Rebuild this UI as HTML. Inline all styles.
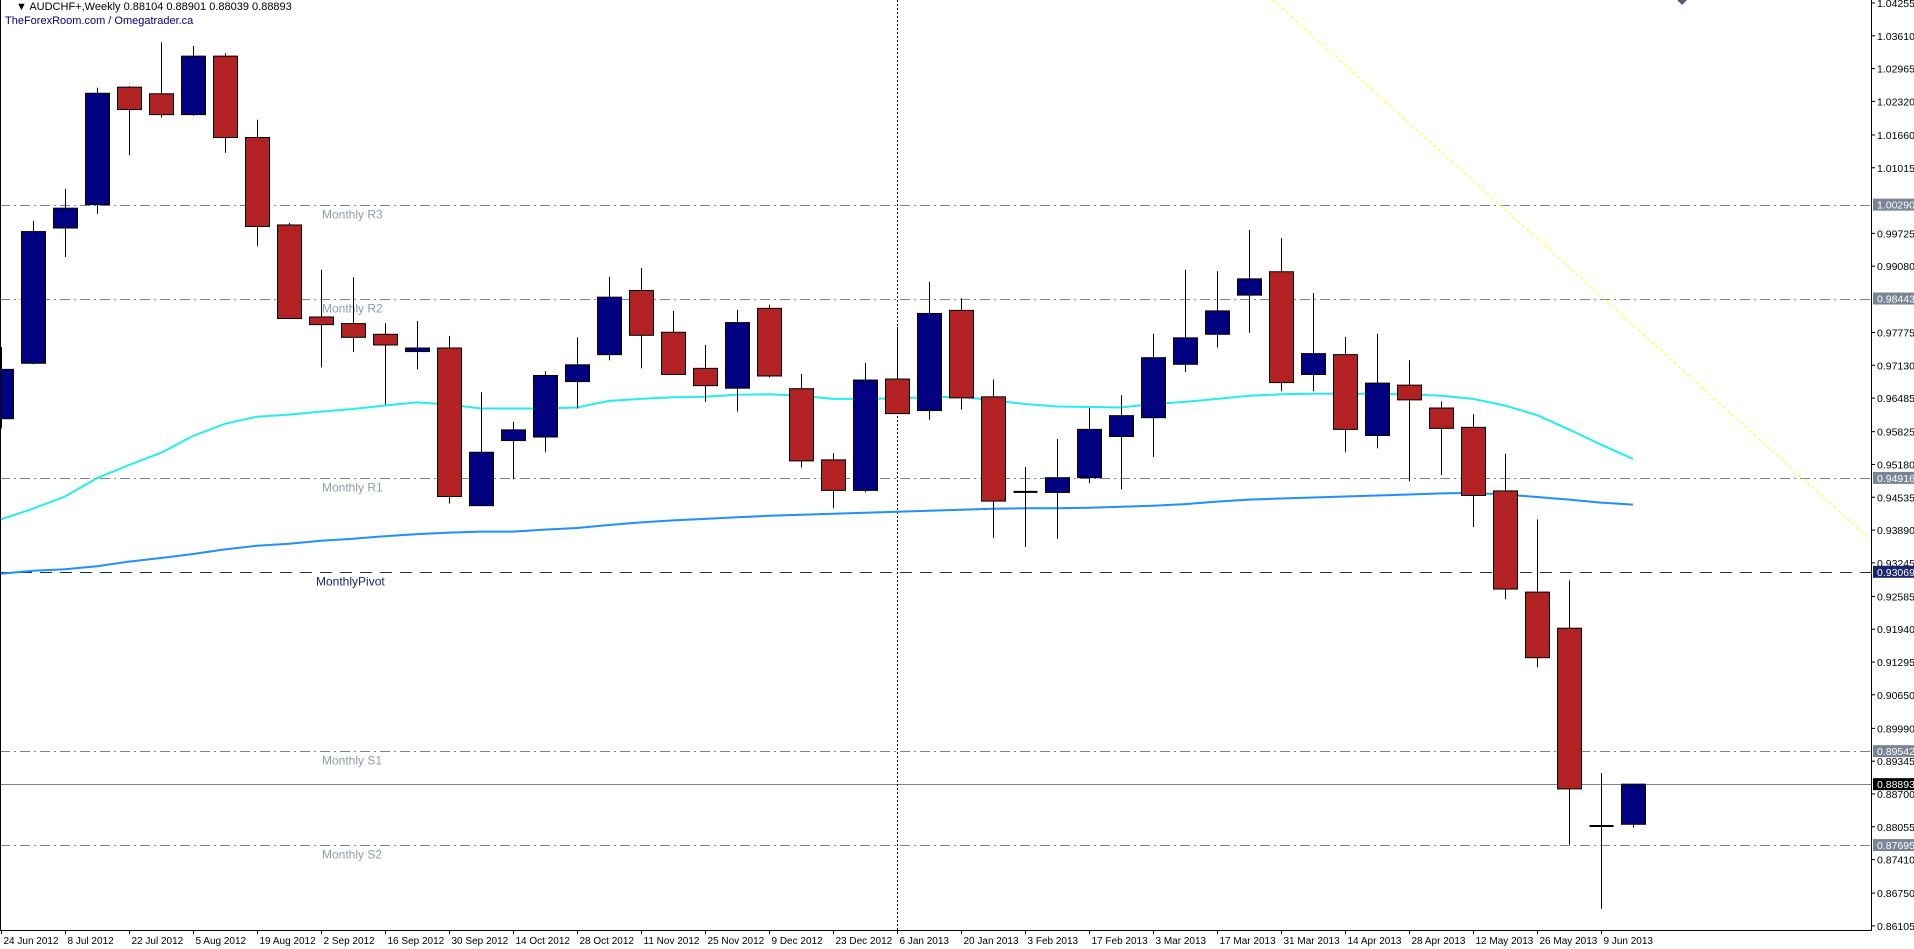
<!DOCTYPE html>
<html><head><meta charset="utf-8"><title>AUDCHF+ Weekly</title>
<style>
html,body{margin:0;padding:0;background:#fff;}
svg{display:block;font-family:"Liberation Sans","DejaVu Sans",sans-serif;}
</style></head>
<body>
<svg id="chart" width="1914" height="949" viewBox="0 0 1914 949" xmlns="http://www.w3.org/2000/svg">
  <rect x="0" y="0" width="1914" height="949" fill="#ffffff"/>
  <g id="levels"></g>
  <g id="extra"></g>
  <g id="mas"></g>
  <g id="candles"></g>
  <g id="axes"></g>
  <text x="16" y="10" font-size="11" fill="#000">▼ AUDCHF+,Weekly  0.88104 0.88901 0.88039 0.88893</text>
  <text x="5" y="24" font-size="11" fill="#000080">TheForexRoom.com / Omegatrader.ca</text>
</svg>
<script>
const opens  = [0.9608,0.9717,0.9983,1.0029,1.0260,1.0247,1.0206,1.0321,1.0161,0.9989,0.9808,0.9795,0.9774,0.9740,0.9747,0.9437,0.9565,0.9572,0.9681,0.9734,0.9860,0.9778,0.9707,0.9668,0.9825,0.9667,0.9527,0.9467,0.9686,0.9624,0.9821,0.9651,0.9464,0.9463,0.9492,0.9573,0.9610,0.9715,0.9774,0.9851,0.9897,0.9695,0.9734,0.9575,0.9674,0.9629,0.9591,0.9466,0.9267,0.9196,0.8807,0.88104];
const highs  = [0.9749,0.9997,1.0060,1.0259,1.0262,1.0348,1.0341,1.0327,1.0196,0.9993,0.9901,0.9886,0.9796,0.9800,0.9771,0.9660,0.9602,0.9701,0.9768,0.9887,0.9904,0.9820,0.9753,0.9822,0.9832,0.9696,0.9540,0.9718,0.9788,0.9877,0.9845,0.9685,0.9513,0.9568,0.9629,0.9654,0.9775,0.9901,0.9898,0.9979,0.9963,0.9855,0.9769,0.9775,0.9723,0.9642,0.9617,0.9539,0.9410,0.9290,0.8911,0.88901];
const lows   = [0.9589,0.9715,0.9926,1.0011,1.0126,1.0200,1.0204,1.0131,0.9947,0.9805,0.9709,0.9739,0.9636,0.9705,0.9441,0.9437,0.9489,0.9542,0.9628,0.9723,0.9707,0.9694,0.9641,0.9622,0.9689,0.9512,0.9432,0.9463,0.9617,0.9606,0.9626,0.9374,0.9356,0.9372,0.9481,0.9469,0.9533,0.9700,0.9748,0.9777,0.9662,0.9662,0.9542,0.9550,0.9485,0.9497,0.9395,0.9253,0.9119,0.8770,0.8644,0.88039];
const closes = [0.9705,0.9976,1.0022,1.0248,1.0216,1.0206,1.0321,1.0161,0.9986,0.9805,0.9793,0.9768,0.9753,0.9747,0.9455,0.9542,0.9586,0.9693,0.9714,0.9847,0.9772,0.9695,0.9673,0.9797,0.9692,0.9525,0.9467,0.9684,0.9618,0.9815,0.9649,0.9446,0.9464,0.9492,0.9587,0.9614,0.9728,0.9767,0.9820,0.9883,0.9679,0.9736,0.9587,0.9678,0.9645,0.9589,0.9457,0.9273,0.9138,0.8880,0.8807,0.88893];
const maFast = [0.9410,0.9431,0.9455,0.9491,0.9517,0.9541,0.9574,0.9598,0.9612,0.9616,0.9622,0.9627,0.9634,0.9640,0.9636,0.9628,0.9628,0.9628,0.9630,0.9643,0.9647,0.9650,0.9651,0.9655,0.9656,0.9653,0.9647,0.9647,0.9648,0.9650,0.9651,0.9644,0.9637,0.9632,0.9631,0.9630,0.9637,0.9641,0.9647,0.9653,0.9656,0.9657,0.9657,0.9657,0.9656,0.9653,0.9647,0.9634,0.9615,0.9587,0.9557,0.9529];
const maSlow = [0.9303,0.9309,0.9312,0.9318,0.9327,0.9334,0.9342,0.9351,0.9358,0.9362,0.9368,0.9372,0.9377,0.9381,0.9384,0.9386,0.9386,0.9390,0.9393,0.9399,0.9404,0.9408,0.9411,0.9414,0.9417,0.9419,0.9421,0.9423,0.9425,0.9427,0.9429,0.9431,0.9432,0.9432,0.9433,0.9435,0.9437,0.9440,0.9445,0.9449,0.9451,0.9453,0.9455,0.9457,0.9459,0.9461,0.9462,0.9459,0.9454,0.9449,0.9443,0.9439];
const dateLabels = ["24 Jun 2012","8 Jul 2012","22 Jul 2012","5 Aug 2012","19 Aug 2012","2 Sep 2012","16 Sep 2012","30 Sep 2012","14 Oct 2012","28 Oct 2012","11 Nov 2012","25 Nov 2012","9 Dec 2012","23 Dec 2012","6 Jan 2013","20 Jan 2013","3 Feb 2013","17 Feb 2013","3 Mar 2013","17 Mar 2013","31 Mar 2013","14 Apr 2013","28 Apr 2013","12 May 2013","26 May 2013","9 Jun 2013"];
const priceTicks = [1.04255,1.03610,1.02965,1.02320,1.01660,1.01015,0.99725,0.99080,0.97775,0.97130,0.96485,0.95825,0.95180,0.94535,0.93890,0.93245,0.92585,0.91940,0.91295,0.90650,0.89990,0.89345,0.88700,0.88055,0.87410,0.86750,0.86105];
const levelNames = ["Monthly R3","Monthly R2","Monthly R1","MonthlyPivot","Monthly S1","Monthly S2"];
const levelValues = [1.00290,0.98443,0.94916,0.93069,0.89542,0.87695];
const currentPrice = 0.88893;

const NS="http://www.w3.org/2000/svg";
const PLOT_R=1871, PLOT_B=930;
function yScale(p){return 3+(1.04255-p)*5085;}
function xScale(i){return 1+32*i;}
function mk(tag,attrs,parent){const e=document.createElementNS(NS,tag);for(const k in attrs)e.setAttribute(k,attrs[k]);parent.appendChild(e);return e;}

const gL=document.getElementById('levels');
levelValues.forEach((v,i)=>{
  const y=Math.round(yScale(v))+0.5;
  const isPivot=levelNames[i]==="MonthlyPivot";
  const ln=mk('line',{x1:0,x2:PLOT_R,y1:y,y2:y,stroke:isPivot?'#1a2470':'#7a8494','stroke-width':1,'stroke-dasharray':isPivot?'12,8':'10,4,2,4'},gL);
  
  
  const t=mk('text',{x:isPivot?316:322,y:y+13,'font-size':12,fill:isPivot?'#1a2470':'#8d9cb0'},gL);
  t.textContent=levelNames[i];
  
  
});
{const y=Math.round(yScale(currentPrice))+0.5;
const l=mk('line',{x1:0,x2:PLOT_R,y1:y,y2:y,stroke:'#7a8494','stroke-width':1},gL);

}

const gE=document.getElementById('extra');
{const v=mk('line',{x1:897.5,x2:897.5,y1:0,y2:PLOT_B,stroke:'#000','stroke-width':1,'stroke-dasharray':'2,2'},gE);


const tl=mk('line',{x1:1273,y1:0,x2:1871,y2:540,stroke:'#ffff00','stroke-width':1,'stroke-dasharray':'3,3'},gE);


const mkr=mk('path',{d:'M1677 0 L1687 0 L1682 5 Z',fill:'#555e6e'},gE);

}

const gM=document.getElementById('mas');
function maPath(arr,color,name){
  let d='M0 '+yScale(arr[0]).toFixed(1);
  arr.forEach((v,i)=>{d+=' L'+xScale(i)+' '+yScale(v).toFixed(1);});
  const p=mk('path',{d:d,fill:'none',stroke:color,'stroke-width':2},gM);
  
  
}
maPath(maFast,'#22eef0','ma-fast');
maPath(maSlow,'#1e90ff','ma-slow');

const gC=document.getElementById('candles');
opens.forEach((o,i)=>{
  const c=closes[i],x=xScale(i)+0.5;
  const g=mk('g',{},gC);
  
  
  mk('line',{x1:x,x2:x,y1:yScale(highs[i]),y2:yScale(lows[i]),stroke:'#000','stroke-width':1},g);
  const top=yScale(Math.max(o,c)),bot=yScale(Math.min(o,c));
  if(bot-top<1.5){
    mk('line',{x1:x-12,x2:x+12,y1:top,y2:top,stroke:c>o?'#000080':'#000','stroke-width':2},g);
  }else{
    mk('rect',{x:x-12,y:top,width:24,height:bot-top,fill:c>=o?'#000080':'#b22222',stroke:'#000','stroke-width':1},g);
  }
});

const gA=document.getElementById('axes');
mk('line',{x1:0.5,x2:0.5,y1:0,y2:PLOT_B,stroke:'#000','stroke-width':1},gA);
mk('line',{x1:PLOT_R+0.5,x2:PLOT_R+0.5,y1:0,y2:PLOT_B,stroke:'#000','stroke-width':1},gA);
mk('line',{x1:0,x2:PLOT_R+1,y1:PLOT_B+0.5,y2:PLOT_B+0.5,stroke:'#000','stroke-width':1},gA);
priceTicks.forEach(p=>{
  const y=yScale(p);
  mk('line',{x1:PLOT_R,x2:PLOT_R+4,y1:y,y2:y,stroke:'#000'},gA);
  const t=mk('text',{x:1877,y:y+4,'font-size':10.5,fill:'#000'},gA);
  t.textContent=p.toFixed(5);
  
  
});
function box(v,bg,name){
  const y=yScale(v);
  mk('rect',{x:PLOT_R+2,y:y-6,width:41,height:12,fill:bg},gA);
  const t=mk('text',{x:1877,y:y+4,'font-size':10.5,fill:'#fff'},gA);
  t.textContent=v.toFixed(5);
  
  
}
levelValues.forEach((v,i)=>box(v,levelNames[i]==="MonthlyPivot"?'#1a2470':'#7a8494','level-price-tag'));
box(currentPrice,'#000','current-price-tag');
dateLabels.forEach((d,k)=>{
  const x=xScale(k*2)+0.5;
  mk('line',{x1:x,x2:x,y1:PLOT_B,y2:PLOT_B+4,stroke:'#000'},gA);
  const t=mk('text',{x:x+2,y:944,'font-size':10,fill:'#000'},gA);
  t.textContent=d;
  
  
});
</script>
</body></html>
